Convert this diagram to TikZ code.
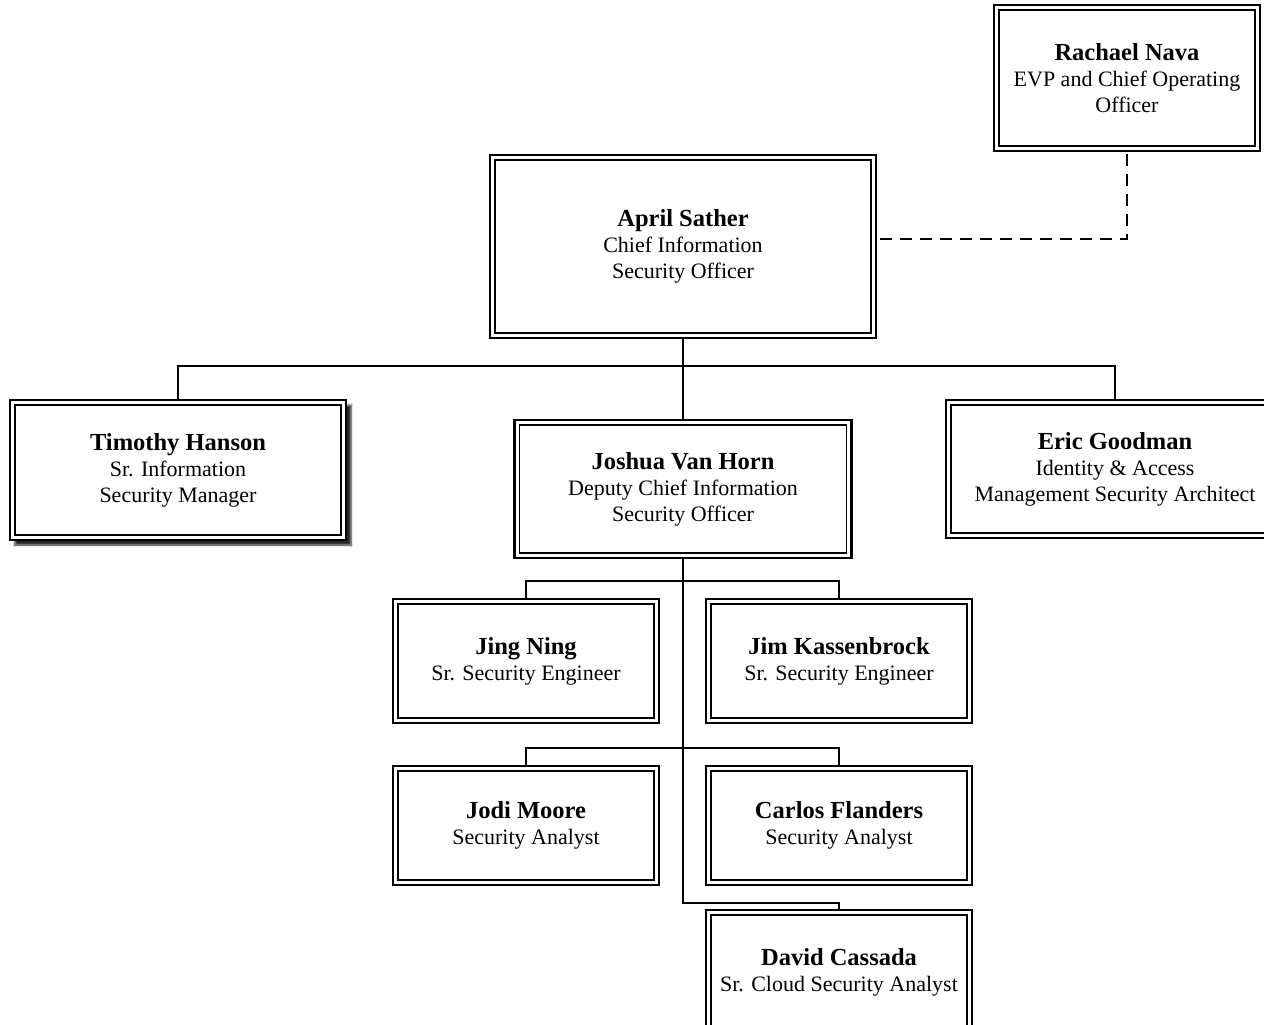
\documentclass[tikz,border=0pt]{standalone}
\usepackage{fontspec}
\setmainfont{Liberation Serif}
\usetikzlibrary{shadows.blur}
\newcommand{\pname}[1]{{\fontsize{24.5}{28}\selectfont\bfseries #1}}
\begin{document}
\begin{tikzpicture}[x=1pt,y=-1pt,
  obox/.style={draw, line width=2.4pt, fill=white, inner sep=0pt, outer sep=0pt, align=center,
    font=\fontsize{22}{26}\selectfont},
  conn/.style={line width=1.8pt},
  dashconn/.style={line width=1.8pt, dash pattern=on 12pt off 8pt},
  inbox/.style={line width=1.3pt}]
\useasboundingbox (0,0) rectangle (1264,1025);
\clip (0,0) rectangle (1264,1025);
\fill[white] (0,0) rectangle (1264,1025);
% boxes
\node[obox, minimum width=266pt, minimum height=146pt] (rach) at (1127,78) {\pname{Rachael Nava}\\EVP and Chief Operating\\Officer};
\node[obox, minimum width=386pt, minimum height=183pt] (april) at (683,246.5) {\pname{April Sather}\\Chief Information\\Security Officer};
\node[obox, minimum width=336pt, minimum height=140pt,
  blur shadow={shadow xshift=5pt, shadow yshift=-5pt, shadow blur steps=6, shadow opacity=85}] (tim) at (178,470) {\pname{Timothy Hanson}\\Sr. Information\\Security Manager};
\node[obox, minimum width=337pt, minimum height=138pt] (josh) at (683,489) {\pname{Joshua Van Horn}\\Deputy Chief Information\\Security Officer};
\node[obox, minimum width=338pt, minimum height=138pt] (eric) at (1115,469) {\pname{Eric Goodman}\\Identity \& Access\\Management Security Architect};
\node[obox, minimum width=266pt, minimum height=124pt] (jing) at (526,661) {\pname{Jing Ning}\\Sr. Security Engineer};
\node[obox, minimum width=266pt, minimum height=124pt] (jim) at (839,661) {\pname{Jim Kassenbrock}\\Sr. Security Engineer};
\node[obox, minimum width=266pt, minimum height=119pt] (jodi) at (526,825.5) {\pname{Jodi Moore}\\Security Analyst};
\node[obox, minimum width=266pt, minimum height=119pt] (carlos) at (839,825.5) {\pname{Carlos Flanders}\\Security Analyst};
\node[obox, minimum width=266pt, minimum height=124pt] (david) at (839,972) {\pname{David Cassada}\\Sr. Cloud Security Analyst};
% inner borders
\foreach \n in {rach,april,tim,josh,eric,jing,jim,jodi,carlos,david}
  \draw[inbox] ([xshift=5pt,yshift=-5pt]\n.north west) rectangle ([xshift=-5pt,yshift=5pt]\n.south east);
% connectors
\coordinate (bus1) at (683,366);
\coordinate (bus2) at (683,581);
\coordinate (bus3) at (683,748);
\coordinate (bus4) at (683,903);
\draw[conn] (tim.north) |- (bus1) -| (eric.north);
\draw[conn] (april.south) -- (josh.north);
\draw[conn] (jing.north) |- (bus2) -| (jim.north);
\draw[conn] (jodi.north) |- (bus3) -| (carlos.north);
\draw[conn] (josh.south) -- (bus4) -| (david.north);
\draw[dashconn] ([xshift=4pt,yshift=7.5pt]april.east) -| (rach.south);
\end{tikzpicture}
\end{document}
